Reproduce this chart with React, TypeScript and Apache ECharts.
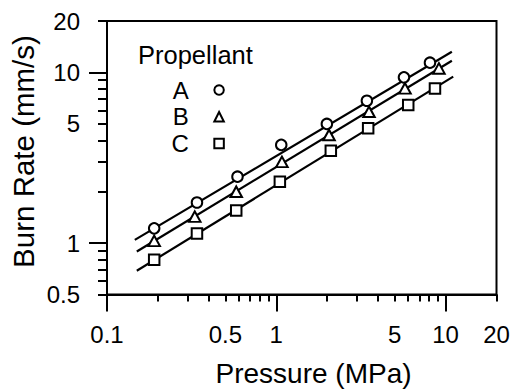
import React, { useEffect, useRef } from "react";
import * as echarts from "echarts";

// Propellant A (circles)
const pressureA = [0.19, 0.34, 0.59, 1.07, 1.99, 3.43, 5.68, 8.09];
const rateA = [1.22, 1.73, 2.45, 3.76, 4.99, 6.82, 9.35, 11.4];
// Propellant B (triangles)
const pressureB = [0.19, 0.33, 0.58, 1.08, 2.05, 3.53, 5.76, 9.14];
const rateB = [1.03, 1.43, 2.0, 2.99, 4.3, 5.88, 8.06, 10.55];
// Propellant C (squares)
const pressureC = [0.19, 0.34, 0.58, 1.05, 2.1, 3.49, 6.02, 8.66];
const rateC = [0.8, 1.14, 1.55, 2.29, 3.47, 4.7, 6.44, 8.06];

// Fitted lines (end points)
const fitPressureA = [0.146, 10.9];
const fitRateA = [1.045, 13.2];
const fitPressureB = [0.15, 10.9];
const fitRateB = [0.893, 11.7];
const fitPressureC = [0.15, 11.1];
const fitRateC = [0.689, 9.45];

const propellants = ["A", "B", "C"];

// Axis ticks / labels
const xLabels = [0.1, 0.5, 1, 5, 10, 20];
const xMajorTicks = [0.1, 1, 10];
const xMinorTicks = [0.2, 0.3, 0.4, 0.5, 0.6, 0.7, 0.8, 0.9, 2, 3, 4, 5, 6, 7, 8, 9, 20];
const yLabels = [0.5, 1, 5, 10, 20];
const yMajorTicks = [1, 10];
const yMinorTicks = [0.5, 0.6, 0.7, 0.8, 0.9, 2, 3, 4, 5, 6, 7, 8, 9, 20];

const FONT = "'Liberation Sans', Arial, Helvetica, sans-serif";

const zip = (xs: number[], ys: number[]) => xs.map((x, i) => [x, ys[i]]);
const fmt = (v: any) => String(parseFloat(Number(v).toPrecision(6)));

export default function App() {
  const ref = useRef<HTMLDivElement>(null);

  useEffect(() => {
    if (!ref.current) return;
    const chart = echarts.init(ref.current, null, { renderer: "svg" });

    const markerStyle = { color: "#fff", borderColor: "#000", borderWidth: 2, opacity: 1 };
    const fitLine = (name: string, xs: number[], ys: number[]) => ({
      type: "line",
      name,
      data: zip(xs, ys),
      symbol: "none",
      silent: true,
      lineStyle: { color: "#000", width: 2.2 },
      z: 2,
    });

    const baseX = {
      type: "log",
      logBase: 10,
      min: 0.1,
      max: 20,
      position: "bottom",
      splitLine: { show: false },
      minorTick: { show: false },
    };
    const baseY = {
      type: "log",
      logBase: 10,
      min: 0.5,
      max: 20,
      position: "left",
      splitLine: { show: false },
      minorTick: { show: false },
    };

    const option: any = {
      animation: false,
      backgroundColor: "#fff",
      textStyle: { fontFamily: FONT, color: "#000" },
      grid: {
        left: 107,
        right: 18.5,
        top: 21,
        bottom: 95.5,
        show: true,
        borderColor: "#000",
        borderWidth: 2,
        backgroundColor: "transparent",
        containLabel: false,
        outerBoundsMode: "none",
      },
      xAxis: [
        {
          ...baseX,
          axisLine: { show: true, onZero: false, lineStyle: { color: "#000", width: 2 } },
          axisTick: { show: true, customValues: xMajorTicks, length: 17, lineStyle: { color: "#000", width: 2 } },
          axisLabel: { show: true, customValues: xLabels, fontSize: 24, color: "#000", fontFamily: FONT, margin: 28, formatter: fmt },
        },
        {
          ...baseX,
          axisLine: { show: false },
          axisTick: { show: true, customValues: xMinorTicks, length: 7, lineStyle: { color: "#000", width: 2 } },
          axisLabel: { show: false },
        },
      ],
      yAxis: [
        {
          ...baseY,
          axisLine: { show: true, onZero: false, lineStyle: { color: "#000", width: 2 } },
          axisTick: { show: true, customValues: yMajorTicks, length: 18, lineStyle: { color: "#000", width: 2 } },
          axisLabel: { show: true, customValues: yLabels, fontSize: 24, color: "#000", fontFamily: FONT, margin: 27, formatter: fmt },
        },
        {
          ...baseY,
          axisLine: { show: false },
          axisTick: { show: true, customValues: yMinorTicks, length: 9, lineStyle: { color: "#000", width: 2 } },
          axisLabel: { show: false },
        },
      ],
      legend: {
        data: propellants,
        orient: "vertical",
        left: 171.5,
        top: 77.5,
        padding: 0,
        align: "right",
        itemWidth: 9.5,
        itemHeight: 9.5,
        itemGap: 1.8,
        selectedMode: false,
        textStyle: { fontSize: 24, color: "#000", fontFamily: FONT, lineHeight: 25, padding: [0, 20.5, 0, 0] },
        itemStyle: { borderWidth: 2, borderColor: "#000", color: "#fff", opacity: 1 },
      },
      graphic: [
        {
          type: "text",
          left: 138,
          top: 42,
          style: { text: "Propellant", fontSize: 25.5, fontFamily: FONT, fill: "#000" },
        },
        {
          type: "text",
          x: 313.5,
          y: 373.5,
          style: { text: "Pressure (MPa)", fontSize: 28, fontFamily: FONT, fill: "#000", align: "center", verticalAlign: "middle" },
        },
        {
          type: "text",
          x: 23.5,
          y: 151.5,
          rotation: Math.PI / 2,
          style: { text: "Burn Rate (mm/s)", fontSize: 29.5, fontFamily: FONT, fill: "#000", align: "center", verticalAlign: "middle" },
        },
      ],
      series: [
        fitLine("A fit", fitPressureA, fitRateA),
        fitLine("B fit", fitPressureB, fitRateB),
        fitLine("C fit", fitPressureC, fitRateC),
        { type: "scatter", name: "A", data: zip(pressureA, rateA), symbol: "circle", symbolSize: 10.5, itemStyle: markerStyle, z: 3 },
        { type: "scatter", name: "B", data: zip(pressureB, rateB), symbol: "triangle", symbolSize: [11.5, 10.5], itemStyle: markerStyle, z: 3 },
        { type: "scatter", name: "C", data: zip(pressureC, rateC), symbol: "rect", symbolSize: 10.5, itemStyle: markerStyle, z: 3 },
      ],
    };

    chart.setOption(option);
    return () => chart.dispose();
  }, []);

  return (
    <div
      ref={ref}
      style={{ position: "fixed", left: 0, top: 0, width: 515, height: 390, background: "#fff" }}
    />
  );
}
